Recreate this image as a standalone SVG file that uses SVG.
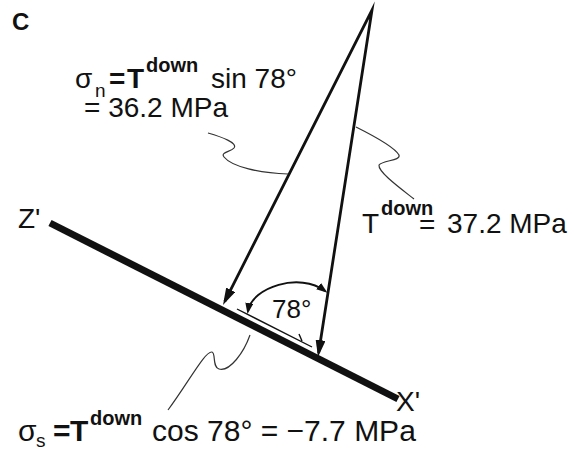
<svg xmlns="http://www.w3.org/2000/svg" width="574" height="452" viewBox="0 0 574 452">
<style>
text{font-family:"Liberation Sans",Arial,Helvetica,sans-serif;fill:#111}
.lab{font-size:28px}
.lab30{font-size:30px}
.sub{font-size:19px}
.sup{font-size:20px;font-weight:bold}
.b{font-weight:bold}
.vec{fill:none;stroke:#111;stroke-width:2.8;stroke-miterlimit:12}
.arc{fill:none;stroke:#111;stroke-width:2}
.thin{fill:none;stroke:#111;stroke-width:1.4}
.sq{fill:none;stroke:#333;stroke-width:1.2}
</style>
<defs>
<marker id="big" markerUnits="userSpaceOnUse" markerWidth="18" markerHeight="10" refX="13" refY="5" orient="auto-start-reverse"><path d="M0,0 L17,5 L0,10 z" fill="#111"/></marker>
<marker id="small" markerUnits="userSpaceOnUse" markerWidth="12" markerHeight="8" refX="8" refY="4" orient="auto-start-reverse"><path d="M0,0 L11,4 L0,8 z" fill="#111"/></marker>
</defs>
<g id="panel-label"><text x="12" y="30" class="b" font-size="24">C</text></g>
<g id="plane">
<line x1="50" y1="223" x2="398" y2="399" stroke="#111" stroke-width="7"/>
<text x="18" y="228" class="lab">Z'</text>
<text x="396" y="411" class="lab">X'</text>
</g>
<g id="connectors">
<path class="vec" d="M224.8,301.4 L372,10 L318.6,353" marker-start="url(#big)" marker-end="url(#big)"/>
<path class="arc" d="M248,311 C252,287 300,272 325,291" marker-start="url(#small)" marker-end="url(#small)"/>
<path class="thin" d="M237,309 L312,347 M302,341 L299,334"/>
<path class="sq" d="M208,133 C222,137 238,143 234,148 C231,152 220,152 224,157 C232,167 260,173 288,174"/>
<path class="sq" d="M356,127 C372,135 395,148 399,155 C401,161 383,160 379,165 C378,172 400,188 414,199"/>
<path class="sq" d="M250,335 C244,352 230,372 219,369 C212,367 216,353 212,352 C205,351 190,380 168,410"/>
</g>
<g id="angle"><text x="272" y="318" font-size="26">78°</text></g>
<g id="sigma-n">
<text class="lab"><tspan x="75" y="88">σ</tspan><tspan class="sub" x="95" y="97">n</tspan><tspan class="b" x="109" y="88">=</tspan><tspan class="b" x="127" y="88">T</tspan><tspan class="sup" x="146" y="72">down</tspan><tspan x="211" y="88">sin 78°</tspan></text>
<text x="84" y="117" class="lab">= 36.2 MPa</text>
</g>
<g id="t-down">
<text class="lab"><tspan x="362" y="233">T</tspan><tspan class="sup" x="381" y="215">down</tspan><tspan x="419" y="234">=</tspan><tspan x="447" y="233">37.2 MPa</tspan></text>
</g>
<g id="sigma-s">
<text class="lab30"><tspan x="18" y="441">σ</tspan><tspan class="sub" x="36" y="447">s</tspan><tspan class="b" x="53" y="441">=</tspan><tspan class="b" x="70" y="441">T</tspan><tspan class="sup" x="90" y="425">down</tspan><tspan x="152" y="441">cos 78° = −7.7 MPa</tspan></text>
</g>
</svg>
